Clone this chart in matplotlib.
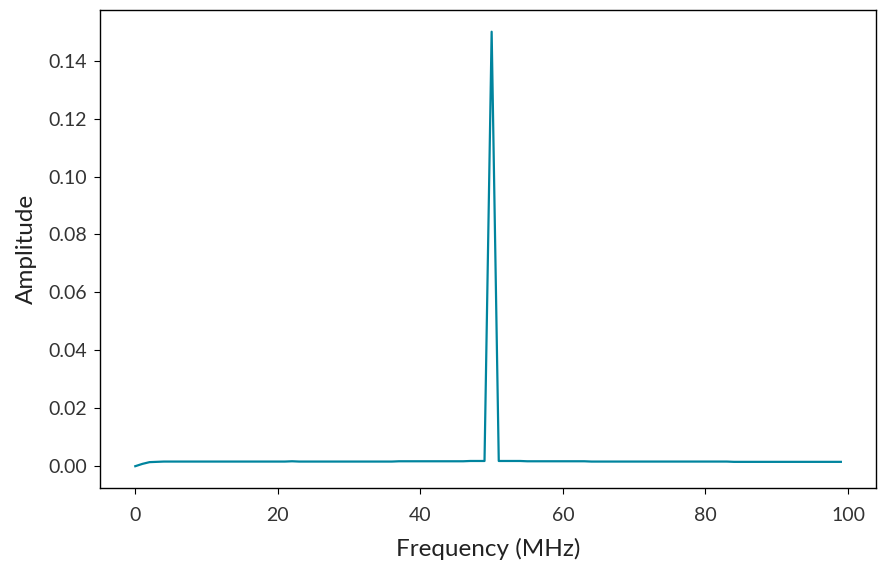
import numpy as np
import matplotlib
matplotlib.use("Agg")
import matplotlib.pyplot as plt

# frequency bins (MHz) and FFT amplitude
freq = list(range(100))
amp_low = [0.0000, 0.0008, 0.0014, 0.0015, 0.0016, 0.0016, 0.0016, 0.0016, 0.0016, 0.0016,
           0.0016, 0.0016, 0.0016, 0.0016, 0.0016, 0.0016, 0.0016, 0.0016, 0.0016, 0.0016,
           0.0016, 0.0016, 0.0017, 0.0016, 0.0016, 0.0016, 0.0016, 0.0016, 0.0016, 0.0016,
           0.0016, 0.0016, 0.0016, 0.0016, 0.0016, 0.0016, 0.0016, 0.0017, 0.0017, 0.0017,
           0.0017, 0.0017, 0.0017, 0.0017, 0.0017, 0.0017, 0.0017, 0.0018, 0.0018, 0.0018]
amp_peak = [0.1500]
amp_high = [0.0018, 0.0018, 0.0018, 0.0018, 0.0017, 0.0017, 0.0017, 0.0017, 0.0017, 0.0017,
            0.0017, 0.0017, 0.0017, 0.0016, 0.0016, 0.0016, 0.0016, 0.0016, 0.0016, 0.0016,
            0.0016, 0.0016, 0.0016, 0.0016, 0.0016, 0.0016, 0.0016, 0.0016, 0.0016, 0.0016,
            0.0016, 0.0016, 0.0016, 0.0015, 0.0015, 0.0015, 0.0015, 0.0015, 0.0015, 0.0015,
            0.0015, 0.0015, 0.0015, 0.0015, 0.0015, 0.0015, 0.0015, 0.0015, 0.0015]
amp = amp_low + amp_peak + amp_high

plt.rcParams['font.family'] = ['Lato', 'DejaVu Sans']

fig = plt.figure(figsize=(8.85, 5.71), dpi=100)
ax = fig.add_axes([0.113, 0.1455, 0.877, 0.837])

ax.plot(freq, amp, color='#00849e', linewidth=1.6)

ax.set_xlabel('Frequency (MHz)', fontsize=17.5, color='#222222', labelpad=10)
ax.set_ylabel('Amplitude', fontsize=17.5, color='#222222', labelpad=8)
ax.tick_params(labelsize=14, colors='black', labelcolor='#333333', length=4.5)
ax.tick_params(axis='x', pad=9)
ax.tick_params(axis='y', pad=5)
ax.set_yticks(np.arange(0, 0.15, 0.02))
ax.yaxis.set_major_formatter(matplotlib.ticker.FormatStrFormatter('%.2f'))

for s in ax.spines.values():
    s.set_linewidth(1.0)

fig.savefig('out.png', dpi=100)
